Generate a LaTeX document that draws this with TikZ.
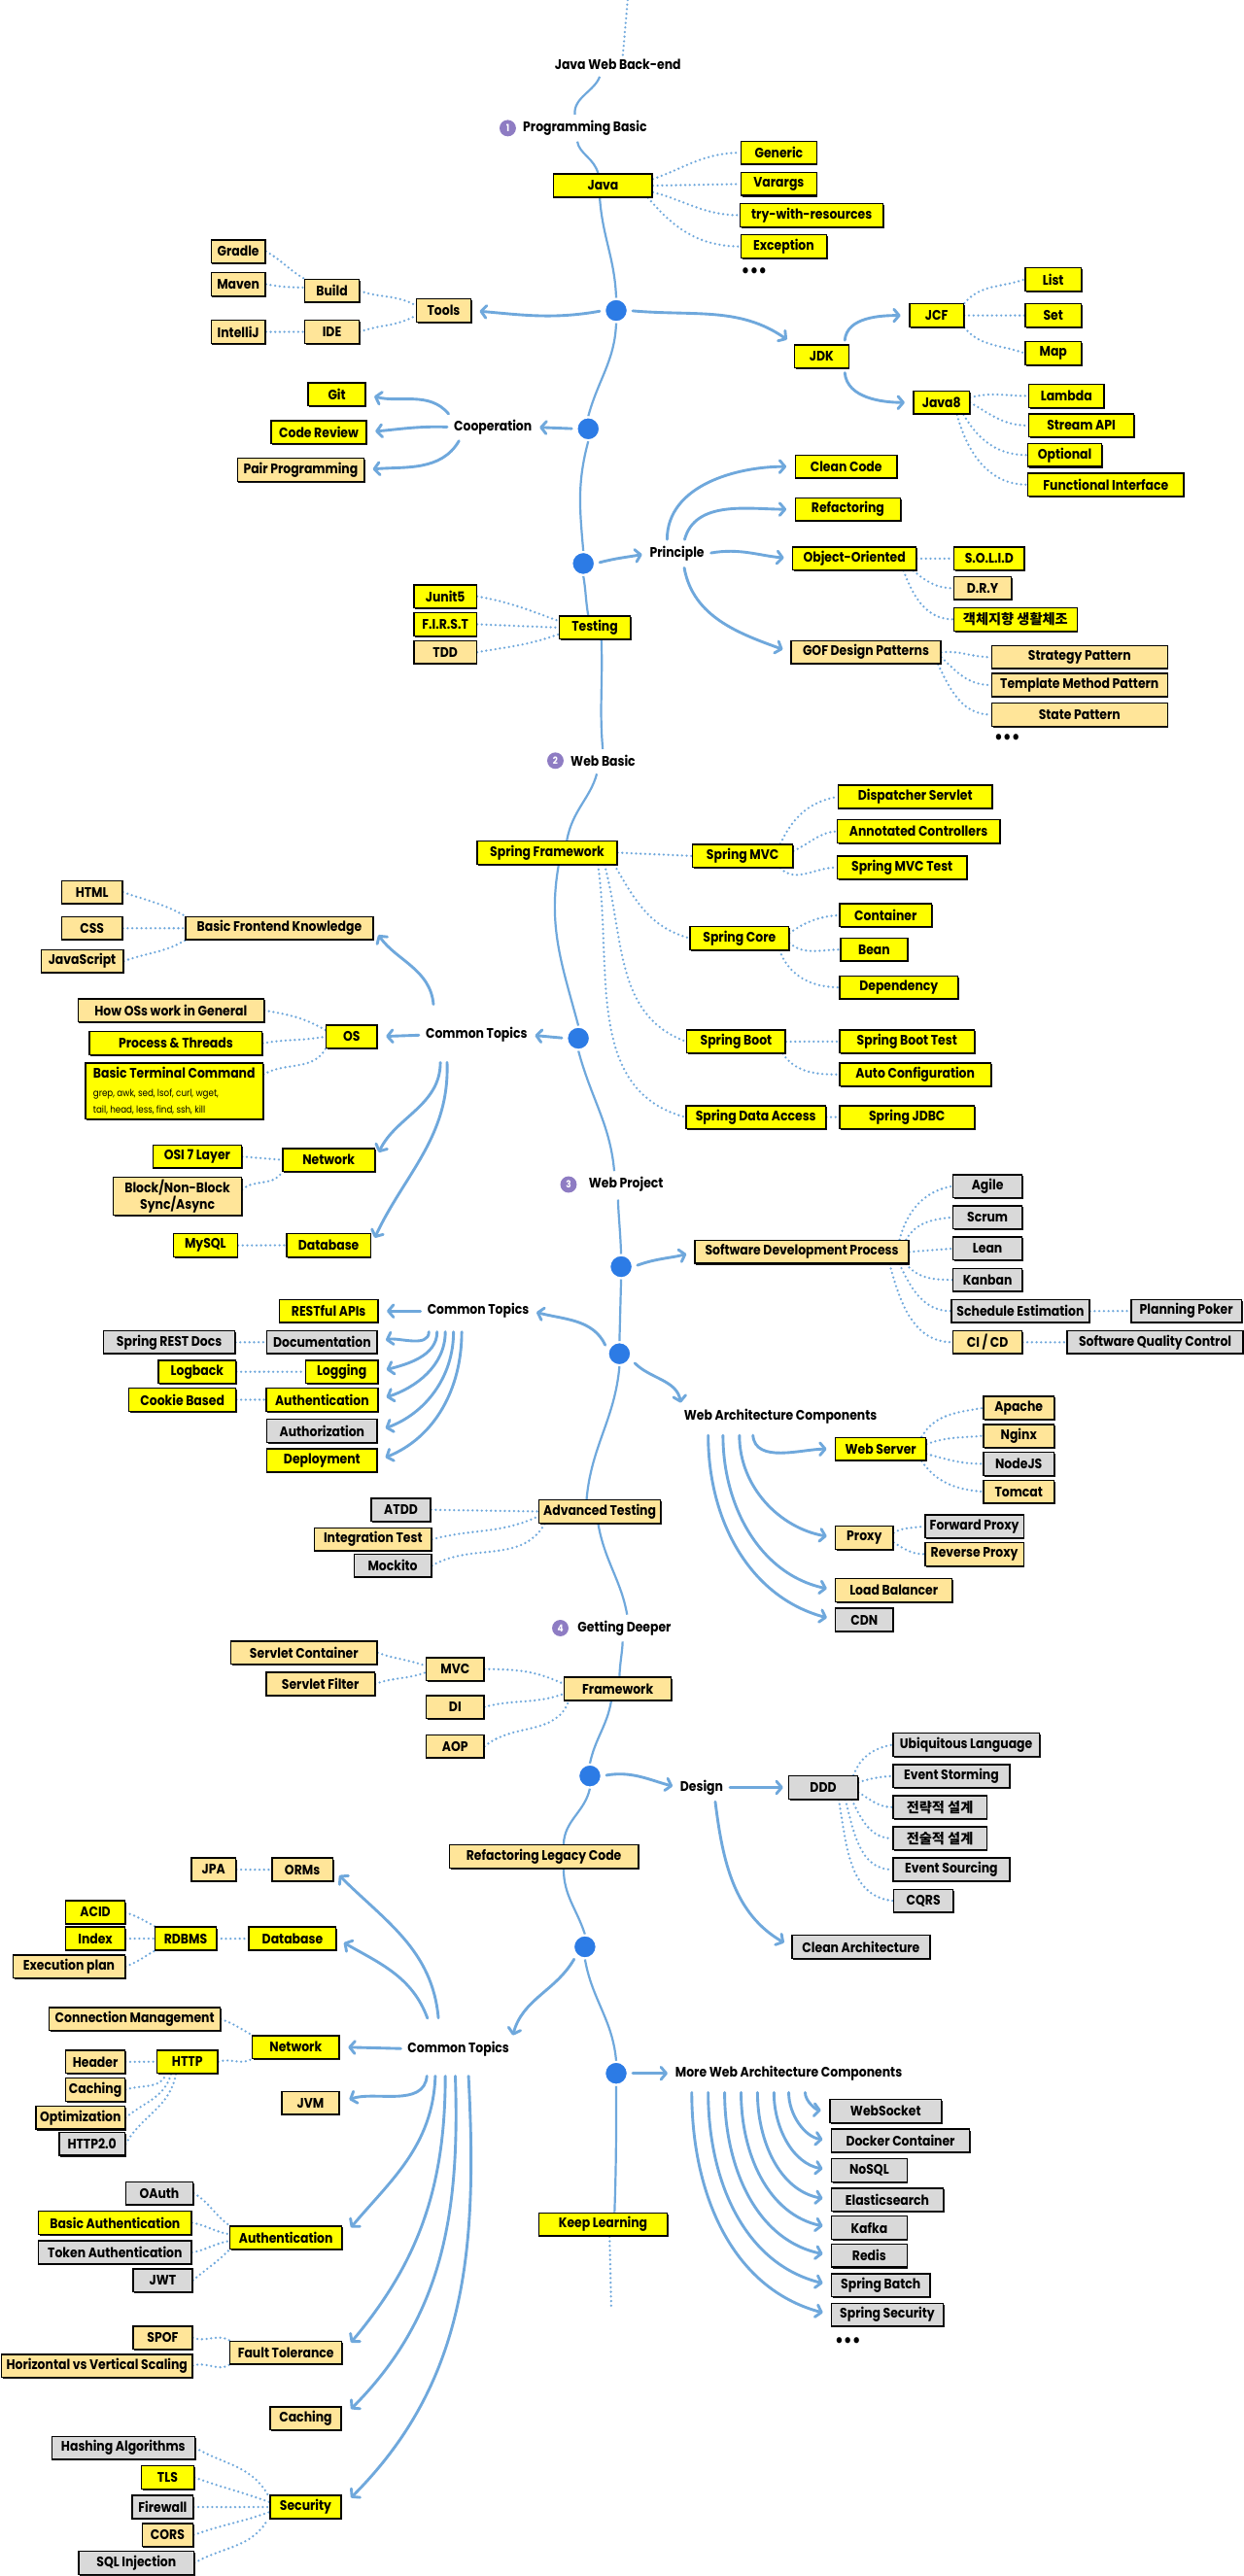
\documentclass[tikz,border=0pt]{standalone}
\usepackage{fontspec}
\setmainfont{Poppins}[FakeStretch=0.875]
\newfontfamily\kr{Noto Sans CJK KR}
\usetikzlibrary{arrows.meta,shadows}
\definecolor{yel}{HTML}{FFFF00}
\definecolor{org}{HTML}{FFE599}
\definecolor{gry}{HTML}{D9D9D9}
\definecolor{lblue}{HTML}{6FA8DC}
\definecolor{dblue}{HTML}{2C7BE5}
\definecolor{purp}{HTML}{8E7CC3}
\pgfdeclarelayer{bg}
\pgfsetlayers{bg,main}
\newcommand\myfs{\fontsize{8.4}{10}\selectfont\bfseries}
\newcommand\smallcmd{\fontsize{5.9}{7}\selectfont\mdseries}
\newcommand\bx[6]{\node[#2,minimum width=#5pt] (#1) at (#3,-#4) {#6};}
\tikzset{
  bb/.style={draw=black, line width=0.85pt, minimum height=14pt, inner xsep=2pt, inner ysep=0pt, font=\myfs, text=black,
    drop shadow={shadow xshift=0.7pt, shadow yshift=-0.8pt, fill=black, opacity=0.9}},
  yb/.style={bb, fill=yel},
  ob/.style={bb, fill=org},
  gb/.style={bb, fill=gry},
  lbl/.style={font=\myfs, inner sep=1.5pt},
  dotsl/.style={font=\fontsize{12}{12}\selectfont\bfseries, inner sep=0pt},
  trunk/.style={draw=lblue, line width=1.3pt},
  arr/.style={draw=lblue, line width=1.7pt, line cap=round, -{Straight Barb[round,length=3.2pt,width=7.5pt]}, shorten <=2.5pt, shorten >=5pt},
  dotc/.style={draw=lblue, line width=1.5pt, line cap=round, dash pattern=on 0pt off 2.8pt},
  bdot/.style={circle, fill=dblue, draw=white, line width=1.2pt, minimum size=14pt, inner sep=0pt},
  num/.style={circle, fill=purp, minimum size=10pt, inner sep=0pt, text=white, font=\fontsize{6}{6}\selectfont\bfseries},
}
\begin{document}
\begin{tikzpicture}[x=1pt,y=1pt]
\begin{pgfonlayer}{bg}
\fill[white] (0,0) rectangle (757,-1568);
\end{pgfonlayer}
\useasboundingbox (0,0) rectangle (757,-1568);
% ---------- section 1
\coordinate (topc) at (382,0);
\node[lbl] (title) at (376,-39) {Java Web Back-end};
\node[num] (n1) at (309,-78) {1};
\node[lbl] (pb) at (356,-78) {Programming Basic};
\bx{java}{yb}{367}{113}{60}{Java}
\bx{generic}{yb}{474}{93}{46}{Generic}
\bx{varargs}{yb}{474}{112}{46}{Varargs}
\bx{twr}{yb}{494}{131}{87}{try-with-resources}
\bx{exception}{yb}{477}{150}{52}{Exception}
\node[dotsl] (dotsa) at (459,-166) {•••};
\node[bdot] (d1) at (375,-189) {};
\bx{tools}{ob}{270}{189}{33}{Tools}
\bx{build}{ob}{202}{177}{33}{Build}
\bx{ide}{ob}{202}{202}{33}{IDE}
\bx{gradle}{ob}{145}{153}{33}{Gradle}
\bx{maven}{ob}{145}{173}{33}{Maven}
\bx{intellij}{ob}{145}{202}{33}{IntelliJ}
\bx{jdk}{yb}{500}{217}{33}{JDK}
\bx{jcf}{yb}{570}{192}{33}{JCF}
\bx{javaeight}{yb}{573}{245}{34}{Java8}
\bx{list}{yb}{641}{170}{34}{List}
\bx{set}{yb}{641}{192}{34}{Set}
\bx{map}{yb}{641}{215}{34}{Map}
\bx{lambda}{yb}{649}{241}{46}{Lambda}
\bx{stream}{yb}{658}{259}{64}{Stream API}
\bx{optional}{yb}{648}{277}{45}{Optional}
\bx{fi}{yb}{673}{295}{95}{Functional Interface}
\node[bdot] (d2) at (358,-261) {};
\node[lbl] (coop) at (300,-260) {Cooperation};
\bx{git}{yb}{205}{240}{35}{Git}
\bx{cr}{yb}{194}{263}{58}{Code Review}
\bx{pp}{ob}{183}{286}{77}{Pair Programming}
\node[bdot] (d3) at (355,-343) {};
\node[lbl] (prin) at (412,-337) {Principle};
\bx{cc}{yb}{515}{284}{62}{Clean Code}
\bx{refa}{yb}{516}{310}{64}{Refactoring}
\bx{oo}{yb}{520}{340}{75}{Object-Oriented}
\bx{solid}{yb}{602}{340}{43}{S.O.L.I.D}
\bx{dry}{ob}{598}{358}{35}{D.R.Y}
\bx{objcal}{yb}{618}{377}{75}{\kr 객체지향 생활체조}
\bx{gof}{ob}{527}{397}{91}{GOF Design Patterns}
\bx{strat}{ob}{657}{400}{107}{Strategy Pattern}
\bx{tmpl}{ob}{657}{417}{107}{Template Method Pattern}
\bx{state}{ob}{657}{435}{107}{State Pattern}
\node[dotsl] (dotsb) at (613,-450) {•••};
\bx{testing}{yb}{362}{382}{43}{Testing}
\bx{junit}{yb}{271}{363}{38}{Junit5}
\bx{first}{yb}{271}{380}{38}{F.I.R.S.T}
\bx{tdd}{ob}{271}{397}{38}{TDD}
% ---------- section 2
\node[num] (n2) at (338,-463) {2};
\node[lbl] (wb) at (367,-463) {Web Basic};
\bx{sf}{yb}{333}{519}{85}{Spring Framework}
\bx{smvc}{yb}{452}{521}{61}{Spring MVC}
\bx{ds}{yb}{557}{485}{94}{Dispatcher Servlet}
\bx{ac}{yb}{559}{506}{99}{Annotated Controllers}
\bx{smt}{yb}{549}{528}{79}{Spring MVC Test}
\bx{score}{yb}{450}{571}{60}{Spring Core}
\bx{cont}{yb}{539}{557}{56}{Container}
\bx{bean}{yb}{532}{578}{41}{Bean}
\bx{dep}{yb}{547}{601}{72}{Dependency}
\bx{sboot}{yb}{448}{634}{60}{Spring Boot}
\bx{sbt}{yb}{552}{634}{82}{Spring Boot Test}
\bx{autoc}{yb}{557}{654}{92}{Auto Configuration}
\bx{sda}{yb}{460}{680}{85}{Spring Data Access}
\bx{sjdbc}{yb}{552}{680}{82}{Spring JDBC}
\node[bdot] (d4) at (352,-632) {};
\node[lbl] (cta) at (290,-630) {Common Topics};
\bx{bfk}{ob}{170}{565}{114}{Basic Frontend Knowledge}
\bx{html}{ob}{56}{543}{37}{HTML}
\bx{css}{ob}{56}{565}{37}{CSS}
\bx{js}{ob}{50}{585}{50}{JavaScript}
\bx{os}{yb}{214}{631}{31}{OS}
\bx{howos}{ob}{104}{615}{113}{How OSs work in General}
\bx{pt}{yb}{107}{635}{105}{Process \& Threads}
\node[yb, minimum width=108pt, minimum height=34pt, align=left, inner xsep=3pt] (btc) at (106,-664)
  {Basic Terminal Command\\[1pt]\smallcmd grep, awk, sed, lsof, curl, wget,\\\smallcmd tail, head, less, find, ssh, kill};
\bx{neta}{yb}{200}{706}{56}{Network}
\bx{osi}{yb}{120}{704}{54}{OSI 7 Layer}
\node[ob, minimum width=78pt, minimum height=23pt, align=center] (bnb) at (108,-728) {Block/Non-Block\\Sync/Async};
\bx{dba}{yb}{200}{758}{51}{Database}
\bx{mysql}{yb}{125}{758}{39}{MySQL}
% ---------- section 3
\node[num] (n3) at (346,-721) {3};
\node[lbl] (wp) at (381,-721) {Web Project};
\node[bdot] (d5) at (378,-771) {};
\bx{sdp}{ob}{488}{762}{130}{Software Development Process}
\bx{agile}{gb}{601}{722}{42}{Agile}
\bx{scrum}{gb}{601}{741}{42}{Scrum}
\bx{lean}{gb}{601}{760}{42}{Lean}
\bx{kanban}{gb}{601}{779}{42}{Kanban}
\bx{sched}{gb}{621}{798}{84}{Schedule Estimation}
\bx{poker}{gb}{722}{798}{67}{Planning Poker}
\bx{cicd}{ob}{601}{817}{42}{CI / CD}
\bx{sqc}{gb}{703}{817}{107}{Software Quality Control}
\node[bdot] (d6) at (377,-824) {};
\node[lbl] (ctb) at (291,-798) {Common Topics};
\bx{rest}{yb}{200}{798}{60}{RESTful APIs}
\bx{doc}{gb}{196}{817}{67}{Documentation}
\bx{srd}{gb}{103}{817}{80}{Spring REST Docs}
\bx{logging}{yb}{208}{835}{44}{Logging}
\bx{logback}{yb}{120}{835}{47}{Logback}
\bx{autha}{yb}{196}{852}{68}{Authentication}
\bx{cookie}{yb}{111}{852}{65}{Cookie Based}
\bx{authz}{gb}{196}{871}{67}{Authorization}
\bx{deploy}{yb}{196}{889}{67}{Deployment}
\node[lbl] (wac) at (475,-862) {Web Architecture Components};
\bx{ws}{yb}{536}{882}{55}{Web Server}
\bx{apache}{ob}{620}{857}{43}{Apache}
\bx{nginx}{ob}{620}{874}{43}{Nginx}
\bx{nodejs}{gb}{620}{891}{43}{NodeJS}
\bx{tomcat}{ob}{620}{908}{43}{Tomcat}
\bx{proxy}{ob}{526}{936}{35}{Proxy}
\bx{fwd}{gb}{593}{929}{60}{Forward Proxy}
\bx{rev}{ob}{593}{946}{60}{Reverse Proxy}
\bx{lb}{ob}{544}{968}{71}{Load Balancer}
\bx{cdn}{gb}{526}{986}{35}{CDN}
\bx{at}{ob}{365}{920}{74}{Advanced Testing}
\bx{atdd}{gb}{244}{919}{36}{ATDD}
\bx{it}{ob}{227}{937}{71}{Integration Test}
\bx{mock}{gb}{239}{953}{47}{Mockito}
% ---------- section 4
\node[num] (n4) at (341,-991) {4};
\node[lbl] (gd) at (380,-991) {Getting Deeper};
\bx{fw}{ob}{376}{1028}{65}{Framework}
\bx{mvc}{ob}{277}{1016}{35}{MVC}
\bx{di}{ob}{277}{1039}{35}{DI}
\bx{aop}{ob}{277}{1063}{35}{AOP}
\bx{scont}{ob}{185}{1006}{89}{Servlet Container}
\bx{sfil}{ob}{195}{1025}{66}{Servlet Filter}
\node[bdot] (d7) at (359,-1081) {};
\node[lbl] (design) at (427,-1088) {Design};
\bx{ddd}{gb}{501}{1088}{42}{DDD}
\bx{ul}{gb}{588}{1062}{89}{Ubiquitous Language}
\bx{es}{gb}{579}{1081}{71}{Event Storming}
\bx{strd}{gb}{572}{1100}{57}{\kr 전략적 설계}
\bx{tacd}{gb}{572}{1119}{57}{\kr 전술적 설계}
\bx{esrc}{gb}{579}{1138}{71}{Event Sourcing}
\bx{cqrs}{gb}{562}{1157}{36}{CQRS}
\bx{ca}{gb}{524}{1185}{84}{Clean Architecture}
\bx{rlc}{ob}{331}{1130}{115}{Refactoring Legacy Code}
\node[bdot] (d8) at (356,-1185) {};
\node[lbl] (ctc) at (279,-1247) {Common Topics};
\bx{orms}{ob}{184}{1138}{37}{ORMs}
\bx{jpa}{ob}{130}{1138}{27}{JPA}
\bx{dbc}{yb}{178}{1180}{53}{Database}
\bx{rdbms}{yb}{113}{1180}{37}{RDBMS}
\bx{acid}{yb}{58}{1164}{36}{ACID}
\bx{index}{yb}{58}{1180}{36}{Index}
\bx{ep}{ob}{42}{1197}{68}{Execution plan}
\bx{netc}{yb}{180}{1246}{53}{Network}
\bx{cm}{ob}{82}{1229}{104}{Connection Management}
\bx{http}{yb}{114}{1255}{37}{HTTP}
\bx{header}{ob}{58}{1255}{36}{Header}
\bx{cacha}{ob}{58}{1272}{36}{Caching}
\bx{optim}{ob}{49}{1289}{54}{Optimization}
\bx{httptwo}{gb}{56}{1305}{40}{HTTP2.0}
\bx{jvm}{ob}{189}{1280}{35}{JVM}
\bx{authc}{yb}{174}{1362}{68}{Authentication}
\bx{oauth}{gb}{97}{1335}{41}{OAuth}
\bx{basica}{yb}{70}{1353}{93}{Basic Authentication}
\bx{tokena}{gb}{70}{1371}{93}{Token Authentication}
\bx{jwt}{gb}{99}{1388}{36}{JWT}
\bx{ft}{ob}{174}{1432}{68}{Fault Tolerance}
\bx{spof}{ob}{99}{1423}{36}{SPOF}
\bx{hvs}{ob}{59}{1440}{116}{Horizontal vs Vertical Scaling}
\bx{cachb}{ob}{186}{1472}{43}{Caching}
\bx{sec}{yb}{186}{1526}{43}{Security}
\bx{hash}{gb}{75}{1490}{87}{Hashing Algorithms}
\bx{tls}{yb}{102}{1508}{32}{TLS}
\bx{fire}{gb}{99}{1526}{37}{Firewall}
\bx{cors}{ob}{102}{1543}{31}{CORS}
\bx{sqli}{gb}{83}{1560}{70}{SQL Injection}
\node[bdot] (d9) at (375,-1262) {};
\node[lbl] (mwac) at (480,-1262) {More Web Architecture Components};
\bx{wsk}{gb}{539}{1285}{68}{WebSocket}
\bx{docker}{gb}{548}{1303}{84}{Docker Container}
\bx{nosql}{gb}{529}{1321}{46}{NoSQL}
\bx{elastic}{gb}{540}{1339}{68}{Elasticsearch}
\bx{kafka}{gb}{529}{1356}{46}{Kafka}
\bx{redis}{gb}{529}{1373}{46}{Redis}
\bx{sbatch}{gb}{536}{1391}{60}{Spring Batch}
\bx{ssec}{gb}{540}{1409}{68}{Spring Security}
\node[dotsl] (dotsc) at (516,-1426) {•••};
\bx{kl}{yb}{367}{1354}{78}{Keep Learning}
\coordinate (endc) at (372,-1405);

\begin{pgfonlayer}{bg}
% ---------- trunk
\draw[dotc] (topc) to[out=-95,in=85] ([xshift=3pt]title.north);
\draw[trunk,shorten <=3pt,shorten >=2pt] ([xshift=-10pt]title.south) to[out=-110,in=95] ([xshift=-6pt]pb.north);
\draw[trunk,shorten <=2pt] ([xshift=-5pt]pb.south) to[out=-80,in=105] ([xshift=-3pt]java.north);
\draw[trunk] ([xshift=-2pt]java.south) to[out=-86,in=92] (d1.north);
\draw[trunk] (d1.south) to[out=-92,in=75] (d2.north);
\draw[trunk] (d2.south) to[out=-105,in=95] (d3.north);
\draw[trunk] (d3.south) to[out=-80,in=100] ([xshift=-4pt]testing.north);
\draw[trunk,shorten >=2pt] ([xshift=4pt]testing.south) to[out=-88,in=95] (wb.north);
\draw[trunk,shorten <=3pt] ([xshift=-3pt]wb.south) to[out=-105,in=80] ([xshift=12pt]sf.north);
\draw[trunk] ([xshift=7pt]sf.south) to[out=-100,in=105] (d4.north);
\draw[trunk,shorten >=2pt] (d4.south) to[out=-75,in=95] ([xshift=-7pt]wp.north);
\draw[trunk,shorten <=3pt] ([xshift=-5pt]wp.south) to[out=-88,in=92] (d5.north);
\draw[trunk] (d5.south) to (d6.north);
\draw[trunk] (d6.south) to[out=-95,in=85] ([xshift=-8pt]at.north);
\draw[trunk,shorten >=2pt] ([xshift=-1pt]at.south) to[out=-80,in=100] ([xshift=2pt]gd.north);
\draw[trunk,shorten <=2pt] ([xshift=-1pt]gd.south) to[out=-92,in=88] ([xshift=1pt]fw.north);
\draw[trunk] ([xshift=-4pt]fw.south) to[out=-100,in=78] (d7.north);
\draw[trunk] (d7.south) to[out=-102,in=88] ([xshift=12pt]rlc.north);
\draw[trunk] ([xshift=12pt]rlc.south) to[out=-90,in=108] (d8.north);
\draw[trunk] (d8.south) to[out=-80,in=95] (d9.north);
\draw[trunk] (d9.south) to[out=-90,in=88] ([xshift=7pt]kl.north);
\draw[dotc] ([xshift=4pt]kl.south) to (endc);
% ---------- section 1 branches
\draw[dotc] ([yshift=4pt]java.east) to[out=20,in=180] (generic.west);
\draw[dotc] (java.east) to (varargs.west);
\draw[dotc] ([yshift=-4pt]java.east) to[out=-15,in=180] (twr.west);
\draw[dotc] ([xshift=-3pt]java.south east) to[out=-50,in=180] (exception.west);
\draw[arr] (d1.west) to[out=190,in=-5] (tools.east);
\draw[arr] (d1.east) to[out=-5,in=145] (jdk.north west);
\draw[arr] ([xshift=-3pt]jdk.north east) to[out=85,in=180] (jcf.west);
\draw[arr] ([xshift=-3pt]jdk.south east) to[out=-85,in=180] (javaeight.west);
\draw[dotc] (gradle.east) to[out=-30,in=150] (build.north west);
\draw[dotc] (maven.east) to[out=-10,in=180] ([yshift=2pt]build.west);
\draw[dotc] (build.east) to[out=-20,in=150] ([yshift=3pt]tools.west);
\draw[dotc] (ide.east) to[out=20,in=210] ([yshift=-3pt]tools.west);
\draw[dotc] (intellij.east) to (ide.west);
\draw[dotc] (jcf.north east) to[out=50,in=200] (list.west);
\draw[dotc] (jcf.east) to (set.west);
\draw[dotc] (jcf.south east) to[out=-50,in=160] (map.west);
\draw[dotc] ([yshift=3pt]javaeight.east) to[out=15,in=180] (lambda.west);
\draw[dotc] (javaeight.east) to[out=-30,in=180] (stream.west);
\draw[dotc] ([xshift=-4pt]javaeight.south east) to[out=-60,in=180] (optional.west);
\draw[dotc] ([xshift=-8pt]javaeight.south east) to[out=-75,in=180] (fi.west);
\draw[arr,shorten >=3pt] (d2.west) -- (coop.east);
\draw[arr] (coop.north west) to[out=130,in=-15] (git.east);
\draw[arr] (coop.west) to[out=178,in=5] (cr.east);
\draw[arr] ([xshift=6pt]coop.south west) to[out=-120,in=5] (pp.east);
\draw[arr,shorten >=3pt] (d3.east) to[out=15,in=190] (prin.west);
\draw[arr] ([xshift=-6pt]prin.north) to[out=90,in=180] (cc.west);
\draw[arr] ([xshift=4pt]prin.north) to[out=75,in=180] (refa.west);
\draw[arr] (prin.east) to[out=10,in=175] (oo.west);
\draw[arr] ([xshift=4pt]prin.south) to[out=-80,in=160] (gof.west);
\draw[dotc] (oo.east) to (solid.west);
\draw[dotc] ([xshift=-2pt]oo.south east) to[out=-40,in=180] (dry.west);
\draw[dotc] ([xshift=-8pt]oo.south east) to[out=-70,in=180] (objcal.west);
\draw[dotc] (gof.east) to[out=5,in=180] (strat.west);
\draw[dotc] ([yshift=-3pt]gof.east) to[out=-45,in=180] (tmpl.west);
\draw[dotc] ([xshift=-2pt]gof.south east) to[out=-65,in=180] (state.west);
\draw[dotc] (junit.east) to[out=-10,in=160] ([yshift=4pt]testing.west);
\draw[dotc] (first.east) to (testing.west);
\draw[dotc] (tdd.east) to[out=10,in=200] ([yshift=-4pt]testing.west);
% ---------- section 2 branches
\draw[dotc] (sf.east) to (smvc.west);
\draw[dotc] ([xshift=-2pt]sf.south east) to[out=-60,in=165] (score.west);
\draw[dotc] ([xshift=-8pt]sf.south east) to[out=-75,in=160] (sboot.west);
\draw[dotc] ([xshift=-12pt]sf.south east) to[out=-82,in=165] (sda.west);
\draw[dotc] ([xshift=-8pt]smvc.north east) to[out=65,in=190] (ds.west);
\draw[dotc] ([yshift=3pt]smvc.east) to[out=25,in=185] (ac.west);
\draw[dotc] ([xshift=-8pt]smvc.south east) to[out=-45,in=180] (smt.west);
\draw[dotc] ([yshift=3pt]score.east) to[out=35,in=185] (cont.west);
\draw[dotc] ([yshift=-3pt]score.east) to[out=-40,in=180] (bean.west);
\draw[dotc] ([xshift=-6pt]score.south east) to[out=-70,in=180] (dep.west);
\draw[dotc] (sboot.east) to (sbt.west);
\draw[dotc] ([xshift=-2pt]sboot.south east) to[out=-55,in=180] (autoc.west);
\draw[dotc] (sda.east) to (sjdbc.west);
\draw[arr,shorten >=3pt] (d4.west) -- (cta.east);
\draw[arr] ([xshift=-26pt,yshift=10pt]cta.north) to[out=95,in=-55] (bfk.east);
\draw[arr] (cta.west) -- (os.east);
\draw[arr] ([xshift=-22pt,yshift=-8pt]cta.south) to[out=-90,in=65] (neta.east);
\draw[arr] ([xshift=-18pt,yshift=-8pt]cta.south) to[out=-88,in=65] (dba.east);
\draw[dotc] (html.east) to[out=-20,in=150] (bfk.north west);
\draw[dotc] (css.east) to (bfk.west);
\draw[dotc] (js.east) to[out=20,in=210] (bfk.south west);
\draw[dotc] (howos.east) to[out=-10,in=150] ([yshift=4pt]os.west);
\draw[dotc] (pt.east) to[out=10,in=190] (os.west);
\draw[dotc] ([yshift=10pt]btc.east) to[out=30,in=240] (os.south west);
\draw[dotc] (osi.east) to (neta.west);
\draw[dotc] ([yshift=4pt]bnb.east) to[out=40,in=240] (neta.south west);
\draw[dotc] (mysql.east) to (dba.west);
% ---------- section 3 branches
\draw[arr] (d5.east) to[out=20,in=195] (sdp.west);
\draw[dotc] ([xshift=-6pt]sdp.north east) to[out=75,in=190] (agile.west);
\draw[dotc] ([xshift=-2pt]sdp.north east) to[out=60,in=185] (scrum.west);
\draw[dotc] (sdp.east) to (lean.west);
\draw[dotc] ([xshift=-2pt]sdp.south east) to[out=-50,in=180] (kanban.west);
\draw[dotc] ([xshift=-6pt]sdp.south east) to[out=-65,in=180] (sched.west);
\draw[dotc] ([xshift=-12pt]sdp.south east) to[out=-75,in=180] (cicd.west);
\draw[dotc] (sched.east) to (poker.west);
\draw[dotc] (cicd.east) to (sqc.west);
\draw[arr,shorten >=3pt] ([yshift=3pt]d6.west) to[out=115,in=-15] (ctb.east);
\draw[arr] (ctb.west) -- (rest.east);
\draw[arr] ([xshift=-30pt,yshift=-4pt]ctb.south) to[out=-90,in=15] (doc.east);
\draw[arr] ([xshift=-25pt,yshift=-4pt]ctb.south) to[out=-90,in=15] (logging.east);
\draw[arr] ([xshift=-20pt,yshift=-4pt]ctb.south) to[out=-90,in=18] (autha.east);
\draw[arr] ([xshift=-15pt,yshift=-4pt]ctb.south) to[out=-90,in=20] (authz.east);
\draw[arr] ([xshift=-10pt,yshift=-4pt]ctb.south) to[out=-90,in=22] (deploy.east);
\draw[dotc] (srd.east) to (doc.west);
\draw[dotc] (logback.east) to (logging.west);
\draw[dotc] (cookie.east) to (autha.west);
\draw[arr,shorten >=2pt] ([yshift=-4pt]d6.east) to[out=-45,in=100] (wac.north west);
\draw[arr] ([xshift=-17pt,yshift=-3pt]wac.south) to[out=-85,in=180] (ws.west);
\draw[arr] ([xshift=-25pt,yshift=-3pt]wac.south) to[out=-90,in=170] (proxy.west);
\draw[arr] ([xshift=-35pt,yshift=-3pt]wac.south) to[out=-90,in=168] (lb.west);
\draw[arr] ([xshift=-44pt,yshift=-3pt]wac.south) to[out=-90,in=165] (cdn.west);
\draw[dotc] ([xshift=-3pt]ws.north east) to[out=60,in=190] (apache.west);
\draw[dotc] ([yshift=3pt]ws.east) to[out=20,in=185] (nginx.west);
\draw[dotc] ([yshift=-3pt]ws.east) to[out=-15,in=180] (nodejs.west);
\draw[dotc] ([xshift=-3pt]ws.south east) to[out=-55,in=175] (tomcat.west);
\draw[dotc] ([yshift=3pt]proxy.east) to[out=30,in=190] (fwd.west);
\draw[dotc] ([yshift=-3pt]proxy.east) to[out=-30,in=180] (rev.west);
\draw[dotc] (atdd.east) to (at.west);
\draw[dotc] (it.east) to[out=15,in=205] ([yshift=-3pt]at.west);
\draw[dotc] (mock.east) to[out=30,in=240] ([xshift=4pt]at.south west);
% ---------- section 4 branches
\draw[dotc] (scont.east) to[out=-20,in=160] ([yshift=2pt]mvc.west);
\draw[dotc] (sfil.east) to[out=20,in=200] ([yshift=-2pt]mvc.west);
\draw[dotc] (mvc.east) to[out=0,in=155] ([yshift=3pt]fw.west);
\draw[dotc] (di.east) to[out=15,in=200] ([yshift=-3pt]fw.west);
\draw[dotc] (aop.east) to[out=40,in=250] ([xshift=3pt]fw.south west);
\draw[arr,shorten >=3pt] (d7.east) to[out=10,in=165] (design.west);
\draw[arr,shorten >=3pt] (design.east) -- (ddd.west);
\draw[arr] ([xshift=8pt]design.south) to[out=-83,in=150] (ca.west);
\draw[dotc] ([xshift=-3pt]ddd.north east) to[out=70,in=190] (ul.west);
\draw[dotc] ([yshift=3pt]ddd.east) to[out=20,in=185] (es.west);
\draw[dotc] ([yshift=-3pt]ddd.east) to[out=-30,in=180] (strd.west);
\draw[dotc] ([xshift=-4pt]ddd.south east) to[out=-65,in=180] (tacd.west);
\draw[dotc] ([xshift=-8pt]ddd.south east) to[out=-75,in=180] (esrc.west);
\draw[dotc] ([xshift=-12pt]ddd.south east) to[out=-80,in=175] (cqrs.west);
\draw[arr,shorten >=2pt] (d8.south west) to[out=-120,in=75] (ctc.north east);
\draw[arr] ([xshift=-12pt,yshift=10pt]ctc.north) to[out=95,in=-45] (orms.east);
\draw[arr] ([xshift=-18pt,yshift=10pt]ctc.north) to[out=110,in=-30] (dbc.east);
\draw[arr] (ctc.west) -- (netc.east);
\draw[arr,shorten >=6pt] ([xshift=-19pt,yshift=-8pt]ctc.south) to[out=-95,in=20] (jvm.east);
\draw[arr,shorten >=8pt] ([xshift=-14pt,yshift=-8pt]ctc.south) to[out=-92,in=50] (authc.east);
\draw[arr,shorten >=8pt] ([xshift=-8pt,yshift=-8pt]ctc.south) to[out=-90,in=50] (ft.east);
\draw[arr,shorten >=8pt] ([xshift=-2pt,yshift=-8pt]ctc.south) to[out=-88,in=45] (cachb.east);
\draw[arr,shorten >=8pt] ([xshift=6pt,yshift=-8pt]ctc.south) to[out=-87,in=45] (sec.east);
\draw[dotc] (jpa.east) to (orms.west);
\draw[dotc] (acid.east) to[out=-20,in=150] (rdbms.north west);
\draw[dotc] (index.east) to (rdbms.west);
\draw[dotc] (ep.east) to[out=20,in=210] (rdbms.south west);
\draw[dotc] (rdbms.east) to (dbc.west);
\draw[dotc] (cm.east) to[out=-20,in=150] (netc.north west);
\draw[dotc] (http.east) to[out=20,in=210] (netc.south west);
\draw[dotc] (header.east) to (http.west);
\draw[dotc] (cacha.east) to[out=20,in=250] ([xshift=6pt]http.south west);
\draw[dotc] (optim.east) to[out=40,in=255] ([xshift=9pt]http.south west);
\draw[dotc] (httptwo.east) to[out=60,in=260] ([xshift=12pt]http.south west);
\draw[dotc] (oauth.east) to[out=-30,in=145] (authc.north west);
\draw[dotc] (basica.east) to[out=-10,in=170] ([yshift=2pt]authc.west);
\draw[dotc] (tokena.east) to[out=10,in=190] ([yshift=-2pt]authc.west);
\draw[dotc] (jwt.east) to[out=40,in=225] (authc.south west);
\draw[dotc] (spof.east) to[out=-20,in=150] (ft.north west);
\draw[dotc] (hvs.east) to[out=20,in=210] (ft.south west);
\draw[dotc] (hash.east) to[out=-30,in=120] ([xshift=-1pt]sec.north west);
\draw[dotc] (tls.east) to[out=-20,in=160] ([yshift=3pt]sec.west);
\draw[dotc] (fire.east) to (sec.west);
\draw[dotc] (cors.east) to[out=20,in=200] ([yshift=-3pt]sec.west);
\draw[dotc] (sqli.east) to[out=30,in=240] ([xshift=-1pt]sec.south west);
\draw[arr,shorten >=3pt] (d9.east) -- (mwac.west);
\draw[arr] ([xshift=10pt,yshift=-3pt]mwac.south) to[out=-90,in=175] (wsk.west);
\draw[arr] ([xshift=0pt,yshift=-3pt]mwac.south) to[out=-90,in=172] (docker.west);
\draw[arr] ([xshift=-9pt,yshift=-3pt]mwac.south) to[out=-90,in=170] (nosql.west);
\draw[arr] ([xshift=-19pt,yshift=-3pt]mwac.south) to[out=-90,in=170] (elastic.west);
\draw[arr] ([xshift=-29pt,yshift=-3pt]mwac.south) to[out=-90,in=168] (kafka.west);
\draw[arr] ([xshift=-39pt,yshift=-3pt]mwac.south) to[out=-90,in=168] (redis.west);
\draw[arr] ([xshift=-49pt,yshift=-3pt]mwac.south) to[out=-90,in=166] (sbatch.west);
\draw[arr] ([xshift=-59pt,yshift=-3pt]mwac.south) to[out=-90,in=165] (ssec.west);
\end{pgfonlayer}
\end{tikzpicture}
\end{document}
